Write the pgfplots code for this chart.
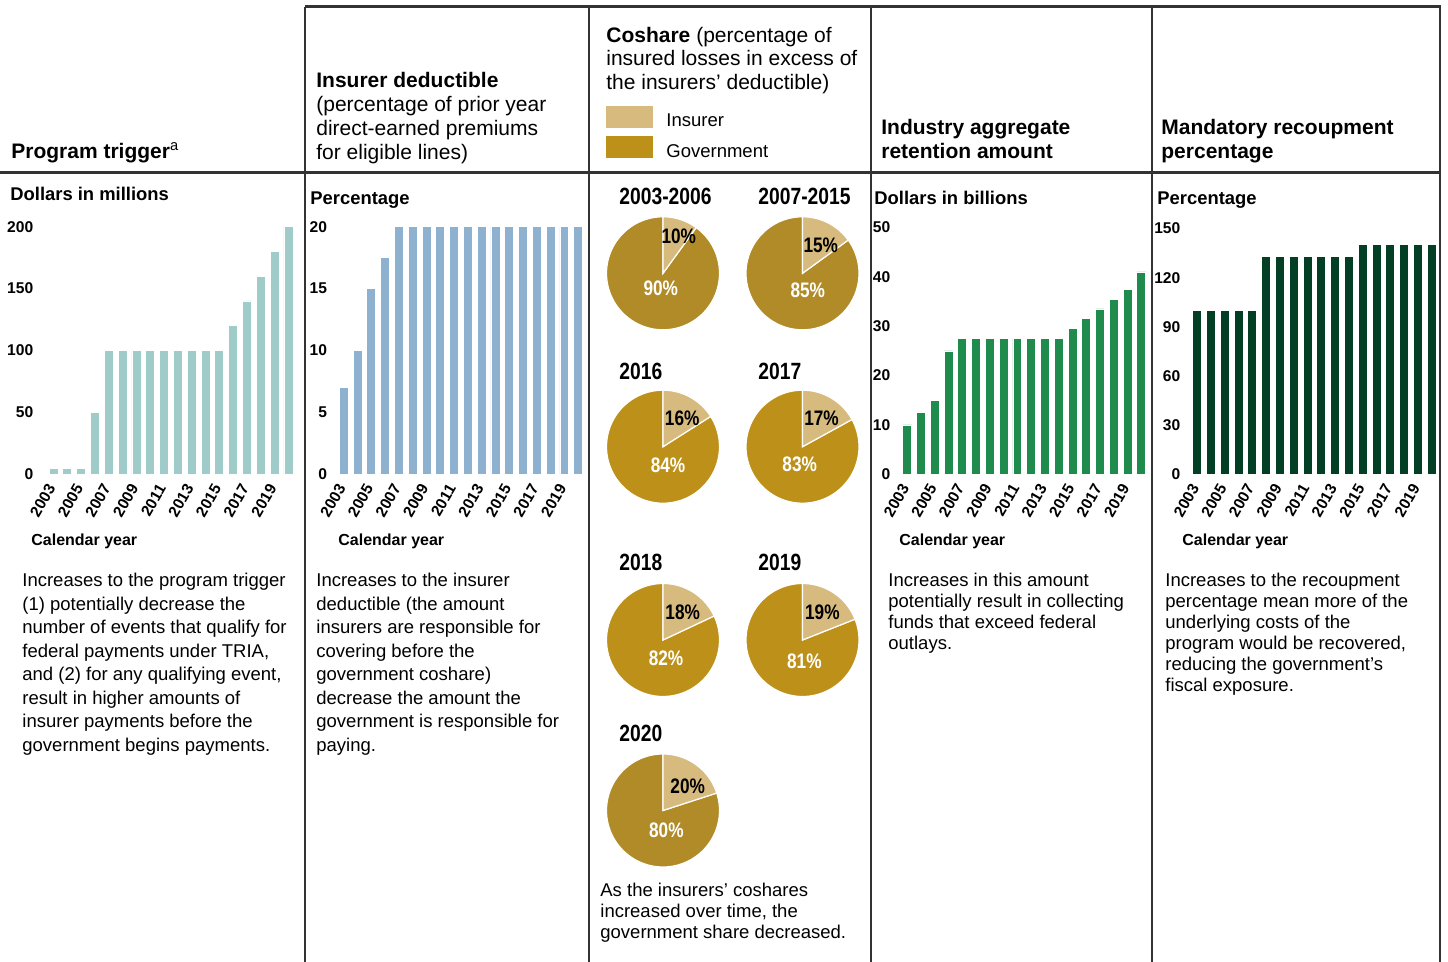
\documentclass[border=0pt]{standalone}
\usepackage{fontspec}
\setmainfont{Liberation Sans}
\newfontfamily\narrow[FakeStretch=0.82]{Liberation Sans}
\usepackage{pgfplots}
\pgfplotsset{compat=1.18}
\definecolor{tealbar}{HTML}{9FCCC8}
\definecolor{bluebar}{HTML}{8EB1D0}
\definecolor{greenbar}{HTML}{1F8B4D}
\definecolor{dgreenbar}{HTML}{033F24}
\definecolor{ins}{HTML}{D7BA7E}
\definecolor{govA}{HTML}{BD9119}
\definecolor{govB}{HTML}{B18B27}
\definecolor{rule}{HTML}{333333}
\newcommand{\hdr}{\fontsize{10.5}{12}\selectfont}
\newcommand{\bodyA}{\fontsize{9.25}{11.75}\selectfont}
\newcommand{\bodyB}{\fontsize{9.25}{10.5}\selectfont}
\newcommand{\unitf}{\fontsize{9.2}{11}\selectfont\bfseries}
\newcommand{\calf}{\fontsize{8}{10}\selectfont\bfseries}
\newcommand{\pietitle}{\narrow\bfseries\fontsize{11.75}{14}\selectfont}
\newcommand{\pielab}{\narrow\bfseries\fontsize{10.5}{12}\selectfont}
\pgfplotsset{
  barpanel/.style={
    scale only axis, anchor=south west,
    xmin=2002.5, xmax=2020.5, ymin=0,
    axis line style={draw=none},
    tick style={draw=none},
    major tick length=0pt,
    xtick={2003,2005,2007,2009,2011,2013,2015,2017,2019},
    xticklabels={2003,2005,2007,2009,2011,2013,2015,2017,2019},
    ticklabel style={font=\fontsize{7.8}{9}\selectfont\bfseries},
    /pgf/number format/assume math mode=true,
    xticklabel style={yshift=-5.5pt, xshift=-1pt, rotate=60, anchor=east, inner sep=0pt},
    yticklabel style={anchor=east, inner sep=0pt},
    clip=false,
  },
  pie/.style={hide axis, scale only axis, width=56.5pt, height=56.5pt,
    xmin=-1, xmax=1, ymin=-1, ymax=1, anchor=center, clip=false},
}
\newcommand{\pie}[3]{%
\begin{axis}[pie, at={(#1)}]
\addplot[fill=#3, draw=white, line width=0.6pt, domain=#2:100, samples=90] ({sin(3.6*x)},{cos(3.6*x)}) -- (axis cs:0,0) -- cycle;
\addplot[fill=ins, draw=white, line width=0.6pt, domain=0:#2, samples=30] ({sin(3.6*x)},{cos(3.6*x)}) -- (axis cs:0,0) -- cycle;
\end{axis}}
\begin{document}
\begin{tikzpicture}[x=0.5pt, y=-0.5pt]
\useasboundingbox (0,0) rectangle (1448,962);
% frame lines
\draw[rule, line width=1.5pt] (305,7) -- (1441,7);
\draw[rule, line width=1.5pt] (0,173) -- (1441,173);
\foreach \xx in {305,589,871,1152,1440} \draw[rule, line width=0.9pt] (\xx,7) -- (\xx,962);

% headers
\node[anchor=base west, inner sep=0pt] at (11,158.5) {\hdr\bfseries Program trigger\textsuperscript{\mdseries a}};
\node[anchor=base west, inner sep=0pt] at (316,87.5) {\hdr\begin{tabular}[t]{@{}l@{}}\textbf{Insurer deductible}\\(percentage of prior year\\direct-earned premiums\\for eligible lines)\end{tabular}};
\node[anchor=base west, inner sep=0pt] at (606,42.5) {\fontsize{10.5}{11.75}\selectfont\begin{tabular}[t]{@{}l@{}}\textbf{Coshare} (percentage of\\insured losses in excess of\\the insurers’ deductible)\end{tabular}};
\node[anchor=base west, inner sep=0pt] at (881,135) {\hdr\bfseries\begin{tabular}[t]{@{}l@{}}Industry aggregate\\retention amount\end{tabular}};
\node[anchor=base west, inner sep=0pt] at (1161,135) {\hdr\bfseries\begin{tabular}[t]{@{}l@{}}Mandatory recoupment\\percentage\end{tabular}};

% legend
\fill[ins] (606,106) rectangle (653,128);
\fill[govA] (606,136) rectangle (653,158);
\node[anchor=base west, inner sep=0pt] at (666,126.5) {\bodyA Insurer};
\node[anchor=base west, inner sep=0pt] at (666,157.5) {\bodyA Government};

% unit labels
\node[anchor=base west, inner sep=0pt] at (10,200.7) {\unitf Dollars in millions};
\node[anchor=base west, inner sep=0pt] at (310,204.3) {\unitf Percentage};
\node[anchor=base west, inner sep=0pt] at (874,204.3) {\unitf Dollars in billions};
\node[anchor=base west, inner sep=0pt] at (1157,204.3) {\unitf Percentage};

% calendar year
\node[anchor=base west, inner sep=0pt] at (31,545.5) {\calf Calendar year};
\node[anchor=base west, inner sep=0pt] at (338,545.5) {\calf Calendar year};
\node[anchor=base west, inner sep=0pt] at (899,545.5) {\calf Calendar year};
\node[anchor=base west, inner sep=0pt] at (1182,545.5) {\calf Calendar year};

% body texts
\node[anchor=base west, inner sep=0pt] at (22,587) {\bodyA\begin{tabular}[t]{@{}l@{}}Increases to the program trigger\\(1) potentially decrease the\\number of events that qualify for\\federal payments under TRIA,\\and (2) for any qualifying event,\\result in higher amounts of\\insurer payments before the\\government begins payments.\end{tabular}};
\node[anchor=base west, inner sep=0pt] at (316,587) {\bodyA\begin{tabular}[t]{@{}l@{}}Increases to the insurer\\deductible (the amount\\insurers are responsible for\\covering before the\\government coshare)\\decrease the amount the\\government is responsible for\\paying.\end{tabular}};
\node[anchor=base west, inner sep=0pt] at (888,587) {\bodyB\begin{tabular}[t]{@{}l@{}}Increases in this amount\\potentially result in collecting\\funds that exceed federal\\outlays.\end{tabular}};
\node[anchor=base west, inner sep=0pt] at (1165,587) {\bodyB\begin{tabular}[t]{@{}l@{}}Increases to the recoupment\\percentage mean more of the\\underlying costs of the\\program would be recovered,\\reducing the government’s\\fiscal exposure.\end{tabular}};
\node[anchor=base west, inner sep=0pt] at (600,897) {\bodyB\begin{tabular}[t]{@{}l@{}}As the insurers’ coshares\\increased over time, the\\government share decreased.\end{tabular}};

% bar panels
\coordinate (A1) at (46.6,474.3);
\coordinate (A2) at (336.9,474.3);
\coordinate (A4) at (900.4,474.3);
\coordinate (A5) at (1190.3,474.3);

\begin{axis}[barpanel, at={(A1)}, width=124.4pt, height=123.8pt, ymax=200,
  ytick={0,50,100,150,200}, yticklabel style={xshift=-6.5pt}]
\addplot[ybar, bar width=0.65, fill=tealbar, draw=white, line width=0.4pt] coordinates {
(2003,5) (2004,5) (2005,5) (2006,50) (2007,100) (2008,100) (2009,100) (2010,100) (2011,100)
(2012,100) (2013,100) (2014,100) (2015,100) (2016,120) (2017,140) (2018,160) (2019,180) (2020,200)};
\end{axis}

\begin{axis}[barpanel, at={(A2)}, width=124.1pt, height=123.8pt, ymax=20,
  ytick={0,5,10,15,20}, yticklabel style={xshift=-4.7pt}]
\addplot[ybar, bar width=0.65, fill=bluebar, draw=white, line width=0.4pt] coordinates {
(2003,7) (2004,10) (2005,15) (2006,17.5) (2007,20) (2008,20) (2009,20) (2010,20) (2011,20)
(2012,20) (2013,20) (2014,20) (2015,20) (2016,20) (2017,20) (2018,20) (2019,20) (2020,20)};
\end{axis}

\begin{axis}[barpanel, at={(A4)}, width=123.9pt, height=123.4pt, ymax=50,
  ytick={0,10,20,30,40,50}, yticklabel style={xshift=-4.85pt}]
\addplot[ybar, bar width=0.65, fill=greenbar, draw=white, line width=0.4pt] coordinates {
(2003,10) (2004,12.5) (2005,15) (2006,25) (2007,27.5) (2008,27.5) (2009,27.5) (2010,27.5) (2011,27.5)
(2012,27.5) (2013,27.5) (2014,27.5) (2015,29.5) (2016,31.5) (2017,33.5) (2018,35.5) (2019,37.5) (2020,41)};
\end{axis}

\begin{axis}[barpanel, at={(A5)}, width=124.15pt, height=122.9pt, ymax=150,
  ytick={0,30,60,90,120,150}, yticklabel style={xshift=-4.8pt}]
\addplot[ybar, bar width=0.65, fill=dgreenbar, draw=white, line width=0.4pt] coordinates {
(2003,100) (2004,100) (2005,100) (2006,100) (2007,100) (2008,133) (2009,133) (2010,133) (2011,133)
(2012,133) (2013,133) (2014,133) (2015,140) (2016,140) (2017,140) (2018,140) (2019,140) (2020,140)};
\end{axis}

% pies
\coordinate (Q1) at (663,273.3);
\coordinate (Q2) at (802.5,273.3);
\coordinate (Q3) at (663,446.7);
\coordinate (Q4) at (802.5,446.7);
\coordinate (Q5) at (663,640);
\coordinate (Q6) at (802.5,640);
\coordinate (Q7) at (663,810.5);
\pie{Q1}{10}{govB}
\pie{Q2}{15}{govB}
\pie{Q3}{16}{govA}
\pie{Q4}{17}{govA}
\pie{Q5}{18}{govA}
\pie{Q6}{19}{govA}
\pie{Q7}{20}{govB}

% pie titles
\node[anchor=base west, inner sep=0pt] at (619,205) {\pietitle 2003-2006};
\node[anchor=base west, inner sep=0pt] at (758,205) {\pietitle 2007-2015};
\node[anchor=base west, inner sep=0pt] at (619,379.3) {\pietitle 2016};
\node[anchor=base west, inner sep=0pt] at (758,379.3) {\pietitle 2017};
\node[anchor=base west, inner sep=0pt] at (619,571) {\pietitle 2018};
\node[anchor=base west, inner sep=0pt] at (758,571) {\pietitle 2019};
\node[anchor=base west, inner sep=0pt] at (619,742) {\pietitle 2020};

% pie labels
\node[anchor=base, inner sep=0pt] at (678.8,243.3) {\pielab 10\%};
\node[anchor=base, inner sep=0pt, text=white] at (660.8,295.7) {\pielab 90\%};
\node[anchor=base, inner sep=0pt] at (820.8,252.3) {\pielab 15\%};
\node[anchor=base, inner sep=0pt, text=white] at (807.8,297.3) {\pielab 85\%};
\node[anchor=base, inner sep=0pt] at (682.2,425.7) {\pielab 16\%};
\node[anchor=base, inner sep=0pt, text=white] at (668,472.7) {\pielab 84\%};
\node[anchor=base, inner sep=0pt] at (821.5,425.7) {\pielab 17\%};
\node[anchor=base, inner sep=0pt, text=white] at (799.7,471.7) {\pielab 83\%};
\node[anchor=base, inner sep=0pt] at (682.7,619.5) {\pielab 18\%};
\node[anchor=base, inner sep=0pt, text=white] at (666,665.2) {\pielab 82\%};
\node[anchor=base, inner sep=0pt] at (822.4,619.5) {\pielab 19\%};
\node[anchor=base, inner sep=0pt, text=white] at (804.4,668.2) {\pielab 81\%};
\node[anchor=base, inner sep=0pt] at (687.7,794) {\pielab 20\%};
\node[anchor=base, inner sep=0pt, text=white] at (666.4,838) {\pielab 80\%};
\end{tikzpicture}
\end{document}
